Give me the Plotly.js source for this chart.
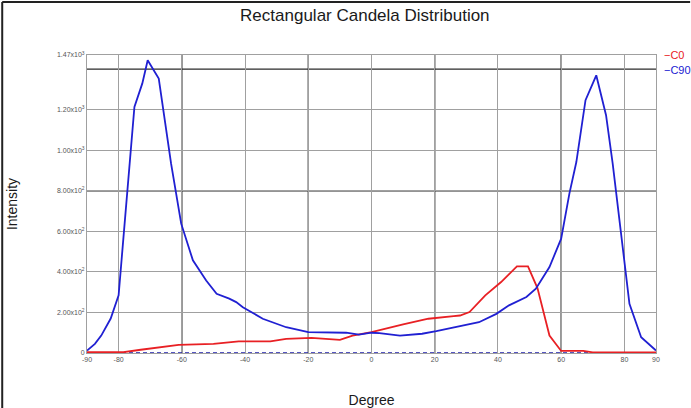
<!DOCTYPE html>
<html>
<head>
<meta charset="utf-8">
<script src="https://cdn.plot.ly/plotly-3.0.1.min.js"></script>
<style>
  html, body { margin: 0; padding: 0; background: #ffffff; }
  #chart { width: 691px; height: 408px; }
</style>
</head>
<body>
<div id="chart"></div>
<script>
// ---- data ----
const c0Deg = [-90, -78.5, -73, -67, -61, -50, -42, -32, -27, -19, -10, -6, -2, 0, 10, 18, 26, 28, 31, 36, 41, 46, 49.5, 52.5, 56.3, 60, 67, 70, 90];
const c0Val = [4, 4, 16, 29, 40, 45, 57, 57, 70, 75, 65, 86, 98, 103, 141, 169, 182, 185, 202, 284, 350, 427, 427, 320, 86, 10, 10, 3, 3];

const c90Deg = [-90, -87.5, -85.5, -82.5, -80, -75, -72.5, -70.8, -67.3, -65, -63.4, -60.2, -56.5, -52.3, -49, -45, -42.8, -40.7, -34.4, -27, -20, -8, -4, 0, 2.5, 9, 16, 20.5, 29, 34, 39.5, 43.5, 49, 52, 56.3, 60, 62.6, 64.8, 67.7, 71.1, 74.2, 76.3, 81.6, 85.3, 90];
const c90Val = [12, 45, 86, 170, 285, 1214, 1330, 1444, 1354, 1120, 934, 638, 457, 358, 292, 268, 251, 226, 169, 127, 103, 100, 91, 100, 98, 86, 95, 108, 136, 152, 193, 235, 276, 317, 424, 564, 786, 942, 1247, 1370, 1173, 934, 243, 78, 12];

const baseDeg = [-90, 90];
const baseVal = [0, 0];

const xTickVals = [-90, -80, -60, -40, -20, 0, 20, 40, 60, 80, 90];
const xTickText = ['-90', '-80', '-60', '-40', '-20', '0', '20', '40', '60', '80', '90'];
const yTickVals = [0, 200, 400, 600, 800, 1000, 1200, 1470];
const yTickText = ['0', '2.00x10<sup>2</sup>', '4.00x10<sup>2</sup>', '6.00x10<sup>2</sup>', '8.00x10<sup>2</sup>',
                   '1.00x10<sup>3</sup>', '1.20x10<sup>3</sup>', '1.47x10<sup>3</sup>'];
const darkGridX = [-60, -20, 20, 60];
const darkGridY = [800, 1400];
const seriesNames = ['C0', 'C90'];
const seriesColors = ['rgb(232,32,36)', 'rgb(32,32,210)'];

// ---- chart ----
const traces = [
  { x: baseDeg, y: baseVal, mode: 'lines', name: 'base', showlegend: false,
    line: { color: 'rgb(30,30,170)', width: 1.5, dash: '4px,3px' }, hoverinfo: 'skip' },
  { x: c0Deg, y: c0Val, mode: 'lines', name: seriesNames[0],
    line: { color: seriesColors[0], width: 1.8 } },
  { x: c90Deg, y: c90Val, mode: 'lines', name: seriesNames[1],
    line: { color: seriesColors[1], width: 1.8 } }
];

const shapes = [];
darkGridX.forEach(v => shapes.push({ type: 'line', xref: 'x', yref: 'paper', x0: v, x1: v, y0: 0, y1: 1,
  line: { color: '#2a2a2a', width: 1.3 }, layer: 'below' }));
darkGridY.forEach(v => shapes.push({ type: 'line', xref: 'paper', yref: 'y', x0: 0, x1: 1, y0: v, y1: v,
  line: { color: '#2a2a2a', width: 1.3 }, layer: 'below' }));
// outer frame of the picture (left and top edges)
shapes.push({ type: 'line', xref: 'paper', yref: 'paper', x0: -0.149, x1: -0.149, y0: -0.19, y1: 1.178,
  line: { color: '#222', width: 2 } });
shapes.push({ type: 'line', xref: 'paper', yref: 'paper', x0: -0.149, x1: 1.06, y0: 1.178, y1: 1.178,
  line: { color: '#222', width: 2 } });

const annotations = seriesNames.map((n, i) => ({
  xref: 'paper', yref: 'paper', x: 1.011, y: 1.0 - i * 0.05, xanchor: 'left', yanchor: 'middle',
  text: '\u2212' + n, showarrow: false, font: { family: 'Liberation Sans, Arial, sans-serif', size: 11, color: seriesColors[i] }
}));

const layout = {
  width: 691, height: 408,
  margin: { l: 87, r: 35, t: 55, b: 55 },
  paper_bgcolor: '#ffffff', plot_bgcolor: '#ffffff',
  showlegend: false,
  title: { text: 'Rectangular Candela Distribution', x: 0.528, xanchor: 'center', y: 0.962, yanchor: 'middle',
           font: { family: 'Liberation Sans, Arial, sans-serif', size: 17, color: '#1a1a1a' } },
  xaxis: {
    range: [-90, 90], tickmode: 'array', tickvals: xTickVals, ticktext: xTickText,
    showgrid: true, gridcolor: '#a0a0a0', gridwidth: 1, zeroline: false,
    showline: true, linecolor: '#a0a0a0', mirror: true,
    ticks: '', tickfont: { family: 'Liberation Sans, Arial, sans-serif', size: 7, color: '#555' },
    title: { text: 'Degree', standoff: 34, font: { family: 'Liberation Sans, Arial, sans-serif', size: 14, color: '#1a1a1a' } },
    automargin: false, fixedrange: true
  },
  yaxis: {
    range: [0, 1470], tickmode: 'array', tickvals: yTickVals, ticktext: yTickText,
    showgrid: true, gridcolor: '#a0a0a0', gridwidth: 1, zeroline: false,
    showline: true, linecolor: '#a0a0a0', mirror: true,
    ticks: '', tickfont: { family: 'Liberation Sans, Arial, sans-serif', size: 7, color: '#555' },
    title: { text: 'Intensity', standoff: 36, font: { family: 'Liberation Sans, Arial, sans-serif', size: 14, color: '#1a1a1a' } },
    automargin: false, fixedrange: true
  },
  shapes: shapes,
  annotations: annotations
};

Plotly.newPlot('chart', traces, layout, { displayModeBar: false, staticPlot: true });
</script>
</body>
</html>
